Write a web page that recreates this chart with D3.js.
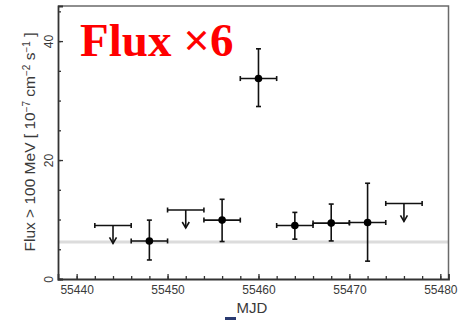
<!DOCTYPE html>
<html>
<head>
<meta charset="utf-8">
<script src="https://cdn.jsdelivr.net/npm/d3@7"></script>
<style>
  body { margin: 0; background: #fff; }
  svg { display: block; font-family: "Liberation Sans", Arial, sans-serif; }
</style>
</head>
<body>
<div id="chart"></div>
<script>
// ── Data ───────────────────────────────────────────────────────────────────
const MJD      = [55444, 55448, 55452, 55456, 55460, 55464, 55468, 55472, 55476];
const BIN_HALF = [2, 2, 2, 2, 2, 2, 2, 2, 2];
const FLUX     = [9.0, 6.4, 11.6, 9.9, 33.7, 9.0, 9.4, 9.5, 12.7];
const FLUX_HI  = [null, 9.9, null, 13.4, 38.7, 11.2, 12.6, 16.1, null];
const FLUX_LO  = [null, 3.2, null, 6.3, 29.0, 6.7, 6.4, 3.0, null];
const IS_UL    = [true, false, true, false, false, false, false, false, true];
const BASELINE = 6.2;

const X_MAJOR = [55440, 55450, 55460, 55470, 55480];
const Y_MAJOR = [0, 20, 40];
const Y_LABEL = ["Flux > 100 MeV [ 10", "−7", " cm", "−2", " s", "−1", " ]"];

// ── Layout ─────────────────────────────────────────────────────────────────
const W = 458, H = 320;
const margin = { top: 6, right: 9.5, bottom: 41, left: 58 };
const width = W - margin.left - margin.right;
const height = H - margin.top - margin.bottom;

const svg = d3.select("#chart").append("svg")
  .attr("width", W).attr("height", H);

const g = svg.append("g")
  .attr("transform", `translate(${margin.left},${margin.top})`);

const x = d3.scaleLinear().domain([55437.95, 55480.9]).range([0, width]);
const y = d3.scaleLinear().domain([0, 45.9]).range([height, 0]);

// grey reference line
g.append("line")
  .attr("x1", 0).attr("x2", width)
  .attr("y1", y(BASELINE)).attr("y2", y(BASELINE))
  .attr("stroke", "#dcdcdc").attr("stroke-width", 3);

// frame (top/right lighter)
g.append("path")
  .attr("d", `M0,0H${width}V${height}`)
  .attr("fill", "none").attr("stroke", "#6a6a6a").attr("stroke-width", 1.5);

// ── Axes (inward ticks) ────────────────────────────────────────────────────
const xMinor = d3.range(55440, 55481, 2);
g.append("g")
  .attr("transform", `translate(0,${height})`)
  .call(d3.axisBottom(x).tickValues(xMinor).tickSize(-3).tickFormat(""))
  .call(a => a.select(".domain").remove())
  .call(a => a.selectAll("line").attr("stroke", "#333").attr("stroke-width", 1.3));

const xAxis = g.append("g")
  .attr("transform", `translate(0,${height})`)
  .call(d3.axisBottom(x).tickValues(X_MAJOR).tickSize(-5).tickPadding(6).tickFormat(d3.format("d")));
xAxis.select(".domain").attr("stroke", "#333").attr("stroke-width", 1.8);
xAxis.selectAll("line").attr("stroke", "#333").attr("stroke-width", 1.3);
xAxis.selectAll("text")
  .attr("font-family", "Liberation Sans, Arial, sans-serif")
  .attr("font-size", 12).attr("fill", "#3a3a3a");

const yMinor = d3.range(0, 46, 5);
g.append("g")
  .call(d3.axisLeft(y).tickValues(yMinor).tickSize(-3).tickFormat(""))
  .call(a => a.select(".domain").remove())
  .call(a => a.selectAll("line").attr("stroke", "#333").attr("stroke-width", 1.3));

const yAxis = g.append("g")
  .call(d3.axisLeft(y).tickValues(Y_MAJOR).tickSize(-5).tickFormat(""));
yAxis.select(".domain").attr("stroke", "#333").attr("stroke-width", 1.8);
yAxis.selectAll("line").attr("stroke", "#333").attr("stroke-width", 1.3);
yAxis.selectAll(".tick").append("text")
  .attr("transform", "translate(-5,0) rotate(-90)")
  .attr("text-anchor", "middle")
  .attr("font-family", "Liberation Sans, Arial, sans-serif")
  .attr("font-size", 12).attr("fill", "#3a3a3a")
  .text(d => d);

// axis titles
svg.append("text")
  .attr("x", 252).attr("y", 313)
  .attr("text-anchor", "middle")
  .attr("font-size", 15).attr("fill", "#3a3a3a")
  .text("MJD");

const yt = svg.append("text")
  .attr("transform", "translate(35,142) rotate(-90)")
  .attr("text-anchor", "middle")
  .attr("font-size", 15.5).attr("fill", "#3a3a3a");
Y_LABEL.forEach((s, i) => {
  const t = yt.append("tspan").text(s);
  if (i % 2 === 1) t.attr("baseline-shift", "super").attr("font-size", 10);
});

// ── Points ─────────────────────────────────────────────────────────────────
const ink = "#111", cap = 2.5, arrowLen = 18;
const pts = g.append("g").attr("stroke", ink).attr("stroke-width", 1.6).attr("fill", "none");

MJD.forEach((m, i) => {
  const cx = x(m), cy = y(FLUX[i]);
  const x0 = x(m - BIN_HALF[i]), x1 = x(m + BIN_HALF[i]);
  // horizontal bar with end caps
  pts.append("line").attr("x1", x0).attr("x2", x1).attr("y1", cy).attr("y2", cy);
  pts.append("line").attr("x1", x0).attr("x2", x0).attr("y1", cy - cap).attr("y2", cy + cap);
  pts.append("line").attr("x1", x1).attr("x2", x1).attr("y1", cy - cap).attr("y2", cy + cap);

  if (IS_UL[i]) {
    const tip = cy + arrowLen;
    pts.append("line").attr("x1", cx).attr("x2", cx).attr("y1", cy).attr("y2", tip);
    pts.append("path").attr("d", `M${cx - 3.5},${tip - 6}L${cx},${tip}L${cx + 3.5},${tip - 6}`);
  } else {
    const yh = y(FLUX_HI[i]), yl = y(FLUX_LO[i]);
    pts.append("line").attr("x1", cx).attr("x2", cx).attr("y1", yh).attr("y2", yl);
    pts.append("line").attr("x1", cx - cap).attr("x2", cx + cap).attr("y1", yh).attr("y2", yh);
    pts.append("line").attr("x1", cx - cap).attr("x2", cx + cap).attr("y1", yl).attr("y2", yl);
    g.append("circle").attr("cx", cx).attr("cy", cy).attr("r", 3.8).attr("fill", "#000");
  }
});

// ── Overlay annotation ─────────────────────────────────────────────────────
svg.append("text")
  .attr("x", 80).attr("y", 56)
  .attr("font-family", "Liberation Serif, Times New Roman, serif")
  .attr("font-weight", "bold")
  .attr("font-size", 47)
  .attr("fill", "#ff0000")
  .text("Flux ×6");

// small dark mark at bottom edge
svg.append("rect")
  .attr("x", 225).attr("y", 317).attr("width", 11).attr("height", 3)
  .attr("fill", "#2a3a70");
</script>
</body>
</html>
